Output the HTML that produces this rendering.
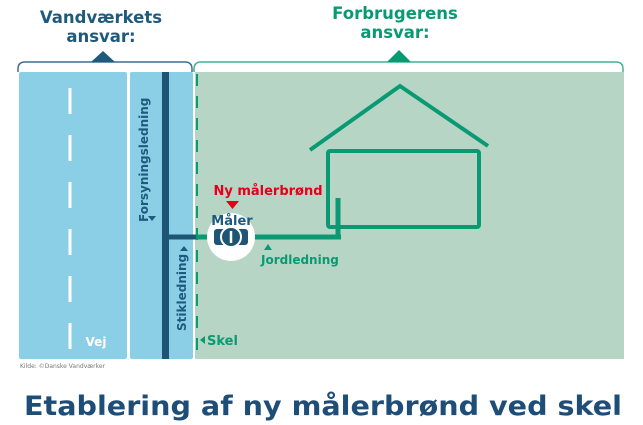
<!DOCTYPE html>
<html><head><meta charset="utf-8"><style>
html,body{margin:0;padding:0;background:#fff;width:643px;height:425px;overflow:hidden}
svg{display:block}
text{font-family:"DejaVu Sans","Liberation Sans",sans-serif;font-weight:bold}
</style></head><body>
<svg width="643" height="425" viewBox="0 0 643 425">
<text x="101" y="23" font-size="16.5" fill="#1e5a7e" text-anchor="middle">Vandværkets</text>
<text x="101" y="42" font-size="16.5" fill="#1e5a7e" text-anchor="middle">ansvar:</text>
<text x="395" y="19" font-size="16.5" fill="#0a9a73" text-anchor="middle">Forbrugerens</text>
<text x="395" y="38" font-size="16.5" fill="#0a9a73" text-anchor="middle">ansvar:</text>
<path d="M18,72 V69 Q18,62 25,62 H185 Q192,62 192,69 V72" fill="none" stroke="#3f6f8f" stroke-width="1.5"/>
<polygon points="91,62 103,51 115,62" fill="#1e5a7e"/>
<path d="M194,72 V69 Q194,62 201,62 H616 Q623,62 623,69 V72" fill="none" stroke="#3fb394" stroke-width="1.5"/>
<polygon points="387,62 399,50 411,62" fill="#0a9a73"/>
<rect x="19" y="72" width="108" height="287" rx="2" fill="#8bcfe6"/>
<rect x="130" y="72" width="63" height="287" rx="2" fill="#8bcfe6"/>
<rect x="195" y="72" width="429" height="287" fill="#b6d5c5"/>
<line x1="70" y1="88" x2="70" y2="358" stroke="#fff" stroke-width="3" stroke-dasharray="26,21"/>
<text x="96" y="346" font-size="12" fill="#fff" text-anchor="middle">Vej</text>
<rect x="162" y="72" width="7" height="287" fill="#1e5575"/>
<line x1="197" y1="74" x2="197" y2="358" stroke="#0a9a73" stroke-width="2" stroke-dasharray="12,10"/>
<line x1="166" y1="237" x2="196" y2="237" stroke="#1e5575" stroke-width="5"/>
<line x1="196" y1="237" x2="341" y2="237" stroke="#0a9a73" stroke-width="5"/>
<line x1="338" y1="198" x2="338" y2="239" stroke="#0a9a73" stroke-width="5"/>
<polyline points="310,150 400,86 488,146" fill="none" stroke="#0a9a73" stroke-width="4"/>
<rect x="328" y="151" width="151" height="76" rx="2" fill="none" stroke="#0a9a73" stroke-width="4"/>
<circle cx="231" cy="237" r="24" fill="#fff"/>
<rect x="214" y="229" width="34" height="16" rx="3" fill="#1e5575"/>
<circle cx="231" cy="237" r="10" fill="#1e5575" stroke="#fff" stroke-width="2"/>
<line x1="231" y1="231" x2="231" y2="243" stroke="#fff" stroke-width="2.5"/>
<text x="232" y="225" font-size="13" fill="#1e5a7e" text-anchor="middle">Måler</text>
<text x="268" y="195" font-size="13" fill="#e3001b" text-anchor="middle">Ny målerbrønd</text>
<polygon points="226,201 239,201 232.5,209" fill="#e3001b"/>
<polygon points="264,250 272,250 268,244" fill="#0a9a73"/>
<text x="261" y="264" font-size="12" fill="#0a9a73">Jordledning</text>
<text transform="translate(148,222) rotate(-90)" font-size="12" fill="#1e5a7e">Forsyningsledning</text>
<polygon points="148,216 156,216 152,221" fill="#1e5a7e"/>
<text transform="translate(186,331) rotate(-90)" font-size="12" fill="#1e5a7e">Stikledning</text>
<polygon points="180,251 188,251 184,246" fill="#1e5a7e"/>
<polygon points="200,340 205,336 205,344" fill="#0a9a73"/>
<text x="207" y="345" font-size="13" fill="#0a9a73">Skel</text>
<text x="20" y="368" font-size="6" fill="#777" style="font-weight:normal">Kilde: ©Danske Vandværker</text>
<text x="323" y="415" font-size="27" fill="#1e4e78" text-anchor="middle" textLength="598" lengthAdjust="spacingAndGlyphs">Etablering af ny målerbrønd ved skel</text>
</svg>
</body></html>
